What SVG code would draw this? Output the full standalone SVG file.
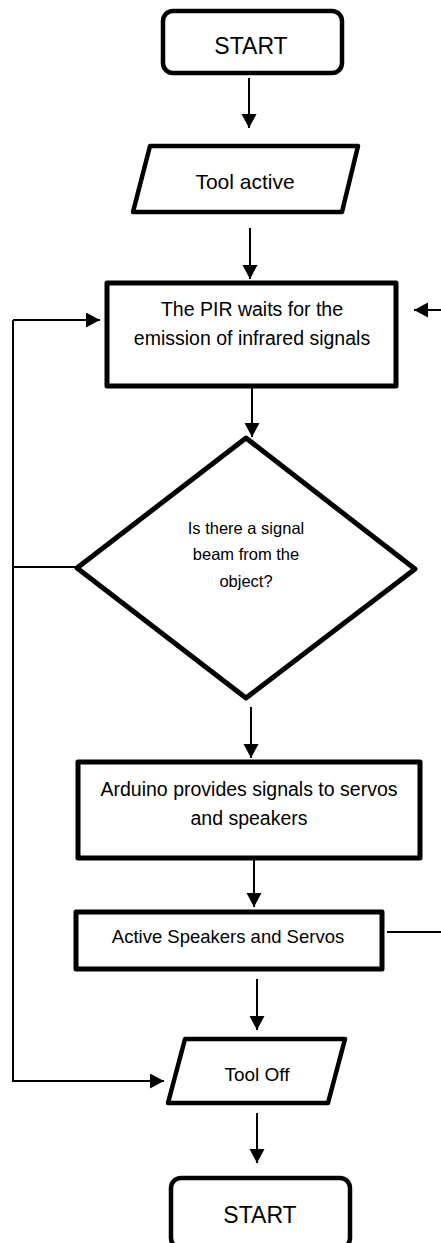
<svg xmlns="http://www.w3.org/2000/svg" width="441" height="1243" viewBox="0 0 441 1243">
<style>
.shape{fill:#fff;stroke:#000;stroke-width:4.5;stroke-linejoin:round}
.thick{stroke-width:5}
.conn{fill:none;stroke:#000;stroke-width:2}
text{font-family:"Liberation Sans",Arial,sans-serif;fill:#000;text-anchor:middle}
</style>
<defs>
<marker id="ah" markerUnits="userSpaceOnUse" markerWidth="16" markerHeight="16" refX="14" refY="7.5" orient="auto">
<path d="M0,0 L14,7.5 L0,15 z" fill="#000"/>
</marker>
</defs>
<g id="start1">
<rect class="shape" x="163" y="11" width="179" height="62" rx="10"/>
<text x="251" y="54" font-size="23">START</text>
</g>
<g id="toolActive">
<polygon class="shape" points="150,146 358,146 342,212 133,212"/>
<text x="245" y="189" font-size="21">Tool active</text>
</g>
<g id="pir">
<rect class="shape thick" x="107" y="283" width="289" height="103"/>
<text x="252" y="316" font-size="19.5">The PIR waits for the</text>
<text x="252" y="345" font-size="19.5">emission of infrared signals</text>
</g>
<g id="decision">
<polygon class="shape thick" points="246,438 415,569 246,698 77,568"/>
<text x="246" y="534" font-size="16.5">Is there a signal</text>
<text x="246" y="560" font-size="16.5">beam from the</text>
<text x="246" y="587" font-size="16.5">object?</text>
</g>
<g id="arduino">
<rect class="shape thick" x="78" y="762" width="342" height="96"/>
<text x="249" y="796" font-size="19.5">Arduino provides signals to servos</text>
<text x="249" y="825" font-size="19.5">and speakers</text>
</g>
<g id="activeSpeakers">
<rect class="shape thick" x="76" y="912" width="306" height="57"/>
<text x="228" y="943" font-size="18.5">Active Speakers and Servos</text>
</g>
<g id="toolOff">
<polygon class="shape" points="185,1039 345,1039 328,1103 168,1103"/>
<text x="257" y="1081" font-size="19">Tool Off</text>
</g>
<g id="start2">
<rect class="shape" x="171" y="1178" width="179" height="70" rx="10"/>
<text x="260" y="1223" font-size="23">START</text>
</g>
<g id="connectors">
<line class="conn" x1="249" y1="78" x2="249" y2="128" marker-end="url(#ah)"/>
<line class="conn" x1="250" y1="228" x2="250" y2="279" marker-end="url(#ah)"/>
<line class="conn" x1="252" y1="388" x2="252" y2="437" marker-end="url(#ah)"/>
<line class="conn" x1="251" y1="707" x2="251" y2="758" marker-end="url(#ah)"/>
<line class="conn" x1="254" y1="860" x2="254" y2="907" marker-end="url(#ah)"/>
<line class="conn" x1="257" y1="979" x2="257" y2="1030" marker-end="url(#ah)"/>
<line class="conn" x1="257" y1="1113" x2="257" y2="1163" marker-end="url(#ah)"/>
<line class="conn" x1="75" y1="567" x2="13" y2="567"/>
<polyline class="conn" points="13,320 13,1081 164,1081" marker-end="url(#ah)"/>
<line class="conn" x1="13" y1="320" x2="100" y2="320" marker-end="url(#ah)"/>
<line class="conn" x1="441" y1="310" x2="414" y2="310" marker-end="url(#ah)"/>
<line class="conn" x1="387" y1="932" x2="441" y2="932"/>
</g>
</svg>
